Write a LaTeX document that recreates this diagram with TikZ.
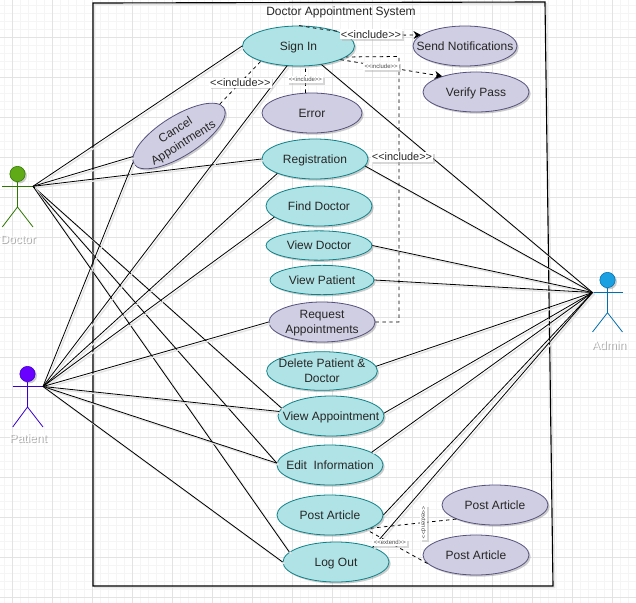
\documentclass[tikz,border=0pt]{standalone}
\usepackage{fontspec}
\setmainfont{Liberation Sans}
\usepackage{xcolor}
\usetikzlibrary{shapes.geometric, shadows, arrows.meta}
\definecolor{caseTeal}{HTML}{B0E3E6}
\definecolor{caseTealLine}{HTML}{0E8088}
\definecolor{casePurple}{HTML}{D0CEE2}
\definecolor{casePurpleLine}{HTML}{56517E}
\definecolor{doctorFill}{HTML}{60A917}
\definecolor{doctorLine}{HTML}{2D7600}
\definecolor{patientFill}{HTML}{6A00FF}
\definecolor{patientLine}{HTML}{3700CC}
\definecolor{adminFill}{HTML}{1BA1E2}
\definecolor{adminLine}{HTML}{006EAF}
\tikzstyle{softShadow} = [preaction={draw, black!10, line width=1.1pt,
   transform canvas={xshift=1.3pt, yshift=-1.3pt}}]
\tikzstyle{useCase} = [ellipse, draw, semithick, inner xsep=-14pt, inner ysep=-3pt, align=center, font=\fontsize{9pt}{11.2pt}\selectfont,
   text=black!85, text depth=0pt, minimum width=79.5pt, minimum height=30pt,
   drop shadow={shadow xshift=1.3pt, shadow yshift=-1.3pt, fill=black!40, opacity=.5}]
\tikzstyle{tealCase} = [useCase, fill=caseTeal, draw=caseTealLine]
\tikzstyle{purpleCase} = [useCase, fill=casePurple, draw=casePurpleLine]
\tikzstyle{assoc} = [black, line width=.6pt, softShadow]
\tikzstyle{dashLink} = [black, line width=.6pt, dash pattern=on 2.6pt off 2.6pt]
\tikzstyle{dashArrow} = [dashLink, -{Stealth[length=5.5pt, width=6pt]}]
\tikzstyle{includeTag} = [fill=white, inner sep=.8pt, text=black!85, font=\fontsize{8.2pt}{9pt}\selectfont,
   drop shadow={shadow xshift=1.3pt, shadow yshift=-1.3pt, fill=black!30, opacity=.5}]
\tikzstyle{tinyTag} = [includeTag, font=\fontsize{4.5pt}{5pt}\selectfont, text=black!70, inner sep=1pt]
\tikzstyle{actorHead} = [circle, draw, inner sep=0, minimum size=11.5pt,
   drop shadow={shadow xshift=1.3pt, shadow yshift=-1.3pt, fill=black!40, opacity=.5}]
\tikzstyle{actorName} = [font=\fontsize{9pt}{10pt}\selectfont]
\newcommand{\whiteName}[1]{\rlap{\kern.9pt\raisebox{-.9pt}{\textcolor{black!32}{#1}}}\textcolor{white}{#1}}

\begin{document}
\begin{tikzpicture}[x=.75pt, y=-.75pt]
  \useasboundingbox (0,0) rectangle (636,603);

  % grid of the page
  \foreach \gx in {4.7,12.7,...,636} \draw[black!4, line width=.4pt] (\gx,0) -- (\gx,603);
  \foreach \gy in {5.3,13.3,...,603} \draw[black!4, line width=.4pt] (0,\gy) -- (636,\gy);
  \foreach \gx in {12.7,52.7,...,636} \draw[black!11, line width=.4pt] (\gx,0) -- (\gx,603);
  \foreach \gy in {37.3,77.3,...,603} \draw[black!11, line width=.4pt] (0,\gy) -- (636,\gy);

  % frame
  \coordinate (frameA) at (93,3);
  \coordinate (frameB) at (545,2);
  \coordinate (frameC) at (553,586);
  \coordinate (frameD) at (93,586);
  \draw[black, line width=.85pt, softShadow] (frameA) -- (frameB) -- (frameC) -- (frameD) -- cycle;
  \node[font=\fontsize{9pt}{10pt}\selectfont, text=black!85] (title) at (341,12.5) {Doctor Appointment System};

  % use cases
  \node[tealCase, minimum width=84pt] (signin) at (298.5,46) {Sign In};
  \node[purpleCase, minimum width=78pt] (send) at (465,46) {Send Notifications};
  \node[purpleCase] (verify) at (476,92) {Verify Pass};
  \node[purpleCase, minimum width=75pt] (error) at (312,113) {Error};
  \node[purpleCase, rotate=32] (cancel) at (179,136) {Cancel\\Appointments};
  \node[tealCase] (registration) at (315,159) {Registration};
  \node[tealCase] (finddoctor) at (319,206) {Find Doctor};
  \node[tealCase, minimum height=22pt] (viewdoctor) at (319,245.5) {View Doctor};
  \node[tealCase, minimum width=78pt, minimum height=22pt] (viewpatient) at (322,280) {View Patient};
  \node[purpleCase] (request) at (322,322) {Request\\Appointments};
  \node[tealCase, minimum width=83pt, minimum height=29pt] (delete) at (322,371) {Delete Patient \&\\Doctor};
  \node[tealCase] (viewappointment) at (331,416) {View Appointment};
  \node[tealCase] (edit) at (330,465) {Edit~~Information};
  \node[tealCase] (postarticle) at (330,515) {Post Article};
  \node[tealCase] (logout) at (336,562) {Log Out};
  \node[purpleCase] (postone) at (495,505) {Post Article};
  \node[purpleCase] (posttwo) at (476,555) {Post Article};

  % actors
  \node[actorHead, draw=doctorLine, fill=doctorFill] (doctorhead) at (17.5,174) {};
  \coordinate (doctorhand) at (33,186.3);
  \coordinate (doctorarm) at (2.3,186.3);
  \coordinate (doctorhip) at (17.5,207);
  \coordinate (doctorlegl) at (2.3,227);
  \coordinate (doctorlegr) at (33,227);
  \draw[doctorLine, semithick] (doctorhead) -- (doctorhip);
  \draw[doctorLine, semithick] (doctorarm) -- (doctorhand);
  \draw[doctorLine, semithick] (doctorlegl) -- (doctorhip) -- (doctorlegr);
  \node[actorName] (doctorname) at (18,240) {\whiteName{Doctor}};

  \node[actorHead, draw=patientLine, fill=patientFill] (patienthead) at (27.5,374) {};
  \coordinate (patienthand) at (43,386.5);
  \coordinate (patientarm) at (12.7,386.5);
  \coordinate (patienthip) at (27.5,407);
  \coordinate (patientlegl) at (12.7,427);
  \coordinate (patientlegr) at (43,427);
  \draw[patientLine, semithick] (patienthead) -- (patienthip);
  \draw[patientLine, semithick] (patientarm) -- (patienthand);
  \draw[patientLine, semithick] (patientlegl) -- (patienthip) -- (patientlegr);
  \node[actorName] (patientname) at (28,439) {\whiteName{Patient}};

  \node[actorHead, draw=adminLine, fill=adminFill] (adminhead) at (607.5,280) {};
  \coordinate (adminhand) at (592.5,292.5);
  \coordinate (adminarm) at (622.5,292.5);
  \coordinate (adminhip) at (607.5,312.7);
  \coordinate (adminlegl) at (592.5,332);
  \coordinate (adminlegr) at (622.5,332);
  \draw[adminLine, semithick] (adminhead) -- (adminhip);
  \draw[adminLine, semithick] (adminhand) -- (adminarm);
  \draw[adminLine, semithick] (adminlegl) -- (adminhip) -- (adminlegr);
  \node[actorName] (adminname) at (609,346) {\whiteName{Admin}};

  % doctor lines
  \draw[assoc] (doctorhand) -- (signin.west);
  \draw[assoc] (doctorhand) -- (cancel.172);
  \draw[assoc] (doctorhand) -- (registration.west);
  \draw[assoc] (doctorhand) -- (viewappointment.171);
  \draw[assoc] (doctorhand) -- (edit.178);
  \draw[assoc] (doctorhand) -- (logout.168);

  % patient lines
  \draw[assoc] (patienthand) -- (cancel.178);
  \draw[assoc] (patienthand) -- (signin.240);
  \draw[assoc] (patienthand) -- (registration.201);
  \draw[assoc] (patienthand) -- (finddoctor.194);
  \draw[assoc] (patienthand) -- (request.west);
  \draw[assoc] (patienthand) -- (viewappointment.175);
  \draw[assoc] (patienthand) -- (edit.178);
  \draw[assoc] (patienthand) -- (logout.west);

  % admin lines
  \draw[assoc] (adminhand) -- (signin.321);
  \draw[assoc] (adminhand) -- (registration.352);
  \draw[assoc] (adminhand) -- (viewdoctor.east);
  \draw[assoc] (adminhand) -- (viewpatient.east);
  \draw[assoc] (adminhand) -- (delete.5);
  \draw[assoc] (adminhand) -- (viewappointment.3);
  \draw[assoc] (adminhand) -- (edit.17);
  \draw[assoc] (adminhand) -- (postarticle.east);
  \draw[assoc] (adminhand) -- (logout.22);

  % dashed links and their tags
  \coordinate (includecorner) at (399,56.5);
  \draw[dashLink] (request.east) -| (includecorner) -- (signin.-13);
  \node[includeTag] (tagregistration) at (402,157) {<{}<include>{}>};
  \draw[dashArrow] (signin.88) to[bend right=5] node[includeTag, pos=.6] (tagsend) {<{}<include>{}>} (send.166);
  \draw[dashArrow] (signin.-18) -- node[tinyTag, pos=.4] (tagverify) {<{}<include>{}>} (verify.155);
  \draw[dashLink] (error.108) -- node[tinyTag] (tagerror) {<{}<include>{}>} (signin.289);
  \draw[dashLink] (cancel.6) -- node[includeTag, pos=.5] (tagcancel) {<{}<include>{}>} (signin.202);
  \draw[dashLink] (postone.200) -- node[tinyTag, rotate=-90, pos=.38] (tagextendone) {<{}<extend>{}>} (postarticle.-18);
  \draw[dashLink] (posttwo.190) -- node[tinyTag, pos=.62] (tagextendtwo) {<{}<extend>{}>} (postarticle.-22);
\end{tikzpicture}
\end{document}
